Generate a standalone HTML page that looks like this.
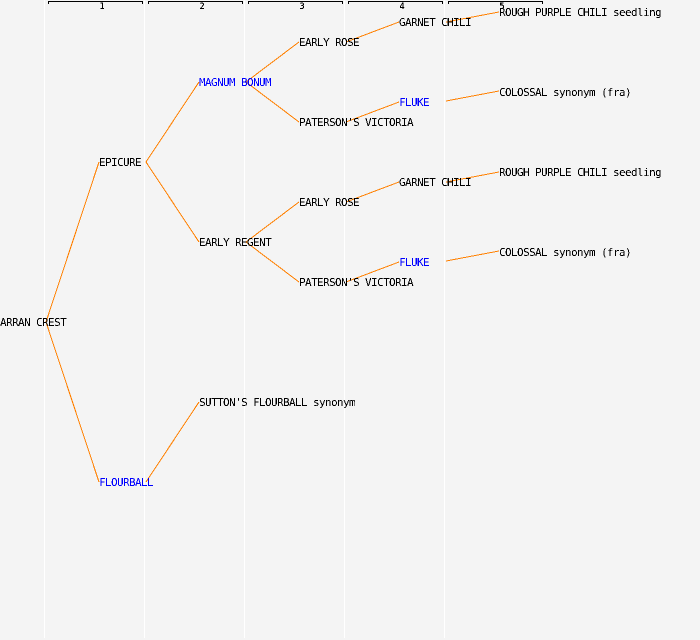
<!DOCTYPE html>
<html><head><meta charset="utf-8"><style>
html,body{margin:0;padding:0;background:#f4f4f4}
svg{display:block}
text{font-family:"DejaVu Sans Mono","Liberation Mono",monospace;font-size:11px;letter-spacing:-0.62px;fill:#000}
.t{filter:url(#bin)}
.d{filter:url(#bin2)}
.b{fill:#0000ff}
text.n{font-size:8.5px;letter-spacing:0;text-anchor:middle}
.l line{stroke:#ff8000;stroke-width:1;shape-rendering:crispEdges}
.g line{stroke:#ffffff;stroke-width:1;shape-rendering:crispEdges}
.k path{stroke:#000;stroke-width:1;fill:none;shape-rendering:crispEdges}
</style></head><body>
<svg width="700" height="640" viewBox="0 0 700 640" xmlns="http://www.w3.org/2000/svg">
<defs>
<filter id="bin" x="0" y="0" width="700" height="640" filterUnits="userSpaceOnUse" color-interpolation-filters="sRGB"><feComponentTransfer><feFuncA type="discrete" tableValues="0 0 1 1"/></feComponentTransfer></filter>
<filter id="bin2" x="0" y="0" width="700" height="20" filterUnits="userSpaceOnUse" color-interpolation-filters="sRGB"><feComponentTransfer><feFuncA type="discrete" tableValues="0 1 1 1"/></feComponentTransfer></filter>
</defs>
<rect width="700" height="640" fill="#f4f4f4"/>
<g class="g">
<line x1="44.5" y1="0" x2="44.5" y2="638"/><line x1="144.5" y1="0" x2="144.5" y2="638"/><line x1="244.5" y1="0" x2="244.5" y2="638"/><line x1="344.5" y1="0" x2="344.5" y2="638"/><line x1="444.5" y1="0" x2="444.5" y2="638"/>
</g>
<g class="k">
<path d="M48.5 4V1.5H142.5V4"/><path d="M148.5 4V1.5H242.5V4"/><path d="M248.5 4V1.5H342.5V4"/><path d="M348.5 4V1.5H442.5V4"/><path d="M448.5 4V1.5H542.5V4"/>
</g>
<g class="l">
<line x1="46" y1="322" x2="99" y2="162"/><line x1="46" y1="322" x2="99" y2="482"/>
<line x1="146" y1="162" x2="199" y2="82"/><line x1="146" y1="162" x2="199" y2="242"/>
<line x1="146" y1="482" x2="199" y2="402"/>
<line x1="246" y1="82" x2="299" y2="42"/><line x1="246" y1="82" x2="299" y2="122"/>
<line x1="246" y1="242" x2="299" y2="202"/><line x1="246" y1="242" x2="299" y2="282"/>
<line x1="346" y1="42" x2="399" y2="22"/><line x1="346" y1="122" x2="399" y2="102"/>
<line x1="346" y1="202" x2="399" y2="182"/><line x1="346" y1="282" x2="399" y2="262"/>
<line x1="446" y1="22" x2="499" y2="12"/><line x1="446" y1="101" x2="499" y2="91"/>
<line x1="446" y1="182" x2="499" y2="172"/><line x1="446" y1="261" x2="499" y2="251"/>
</g>
<g class="d">
<text class="n" x="102" y="9">1</text><text class="n" x="202" y="9">2</text><text class="n" x="302" y="9">3</text><text class="n" x="402" y="9">4</text><text class="n" x="502" y="9">5</text>
</g>
<g class="t">
<text x="0" y="326">ARRAN CREST</text>
<text x="99" y="166">EPICURE</text>
<text class="b" x="99" y="486">FLOURBALL</text>
<text class="b" x="199" y="86">MAGNUM BONUM</text>
<text x="199" y="246">EARLY REGENT</text>
<text x="199" y="406">SUTTON'S FLOURBALL synonym</text>
<text x="299" y="46">EARLY ROSE</text>
<text x="299" y="126">PATERSON'S VICTORIA</text>
<text x="299" y="206">EARLY ROSE</text>
<text x="299" y="286">PATERSON'S VICTORIA</text>
<text x="399" y="26">GARNET CHILI</text>
<text class="b" x="399" y="106">FLUKE</text>
<text x="399" y="186">GARNET CHILI</text>
<text class="b" x="399" y="266">FLUKE</text>
<text x="499" y="16">ROUGH PURPLE CHILI seedling</text>
<text x="499" y="96">COLOSSAL synonym (fra)</text>
<text x="499" y="176">ROUGH PURPLE CHILI seedling</text>
<text x="499" y="256">COLOSSAL synonym (fra)</text>
</g>
</svg>
</body></html>
